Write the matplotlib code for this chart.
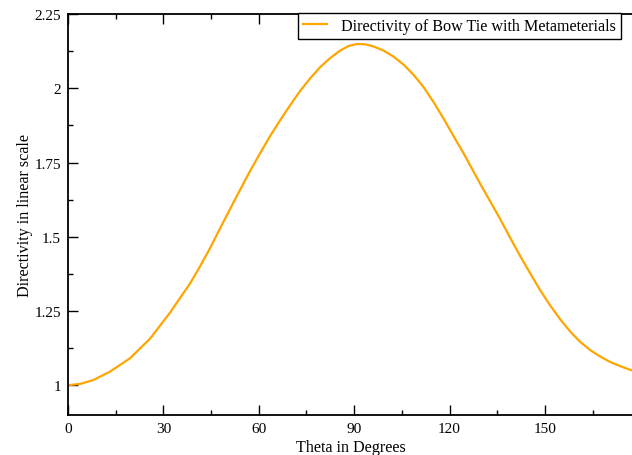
import matplotlib
matplotlib.use("Agg")
import matplotlib.pyplot as plt
from matplotlib.ticker import MultipleLocator

theta = [0, 4, 8, 13.2, 19.5, 25.8, 32.1, 38.4, 41.5, 44.7, 47.8, 51, 54.1, 57.2, 60.4,
         63.5, 66.7, 70, 73, 76.2, 79.3, 82.5, 85.6, 88.2, 90.8, 93.5, 96.3, 99.2,
         102.3, 105.5, 108.7, 111.8, 115, 118.1, 121.2, 124.4, 127.5, 130.7, 133.8,
         136, 139.1, 142.2, 145.4, 148.5, 151.7, 154.8, 158, 161.1, 164.3, 167.5,
         170.6, 174, 177.4, 178]
directivity = [1.000, 1.005, 1.018, 1.046, 1.091, 1.157, 1.245, 1.343, 1.400, 1.462,
               1.528, 1.594, 1.658, 1.720, 1.781, 1.838, 1.892, 1.945, 1.991, 2.034,
               2.071, 2.102, 2.127, 2.142, 2.149, 2.148, 2.140, 2.127, 2.107, 2.080,
               2.045, 2.004, 1.953, 1.898, 1.840, 1.781, 1.720, 1.658, 1.600, 1.558,
               1.496, 1.435, 1.376, 1.320, 1.268, 1.222, 1.180, 1.146, 1.118, 1.096,
               1.078, 1.063, 1.050, 1.048]
series_label = "Directivity of Bow Tie with Metameterials"
x_label = "Theta in Degrees"
y_label = "Directivity in linear scale"
x_ticks = [0, 30, 60, 90, 120, 150]
y_ticks = [1, 1.25, 1.5, 1.75, 2, 2.25]
y_tick_labels = ["1", "1.25", "1.5", "1.75", "2", "2.25"]

plt.rcParams['font.family'] = ['Liberation Serif', 'DejaVu Serif']

W, H = 632, 456
fig = plt.figure(figsize=(W / 100, H / 100), dpi=100)
left, right, top, bottom = 68, 634, 15, 416
ax = fig.add_axes([left / W, (H - bottom) / H, (right - left) / W, (bottom - top) / H])

ax.plot(theta, directivity, color='#FFA500', linewidth=1.6, label=series_label)

ax.set_xlim(0, 178)
ax.set_ylim(0.9, 2.25)
ax.set_xticks(x_ticks)
ax.set_yticks(y_ticks)
ax.set_yticklabels(y_tick_labels)
ax.xaxis.set_minor_locator(MultipleLocator(15))
ax.yaxis.set_minor_locator(MultipleLocator(0.125))
ax.tick_params(which='both', direction='in', top=True, right=False, labelsize=11,
               width=1.0, colors='black')
ax.tick_params(which='major', length=7.5, pad=5)
ax.tick_params(which='minor', length=3.8)
for s in ax.spines.values():
    s.set_linewidth(1.3)

ax.set_xlabel(x_label, fontsize=11.6, labelpad=3)
ax.set_ylabel(y_label, fontsize=11.6, labelpad=1)

leg = ax.legend(loc='upper right', bbox_to_anchor=(621 / W, 1 - 14 / H),
                bbox_transform=fig.transFigure, borderaxespad=0, fancybox=False,
                edgecolor='black', framealpha=1, fontsize=11.6, handlelength=1.5,
                handletextpad=0.9, borderpad=0.3)
leg.get_frame().set_linewidth(1.0)

fig.savefig("out.png", dpi=100)
